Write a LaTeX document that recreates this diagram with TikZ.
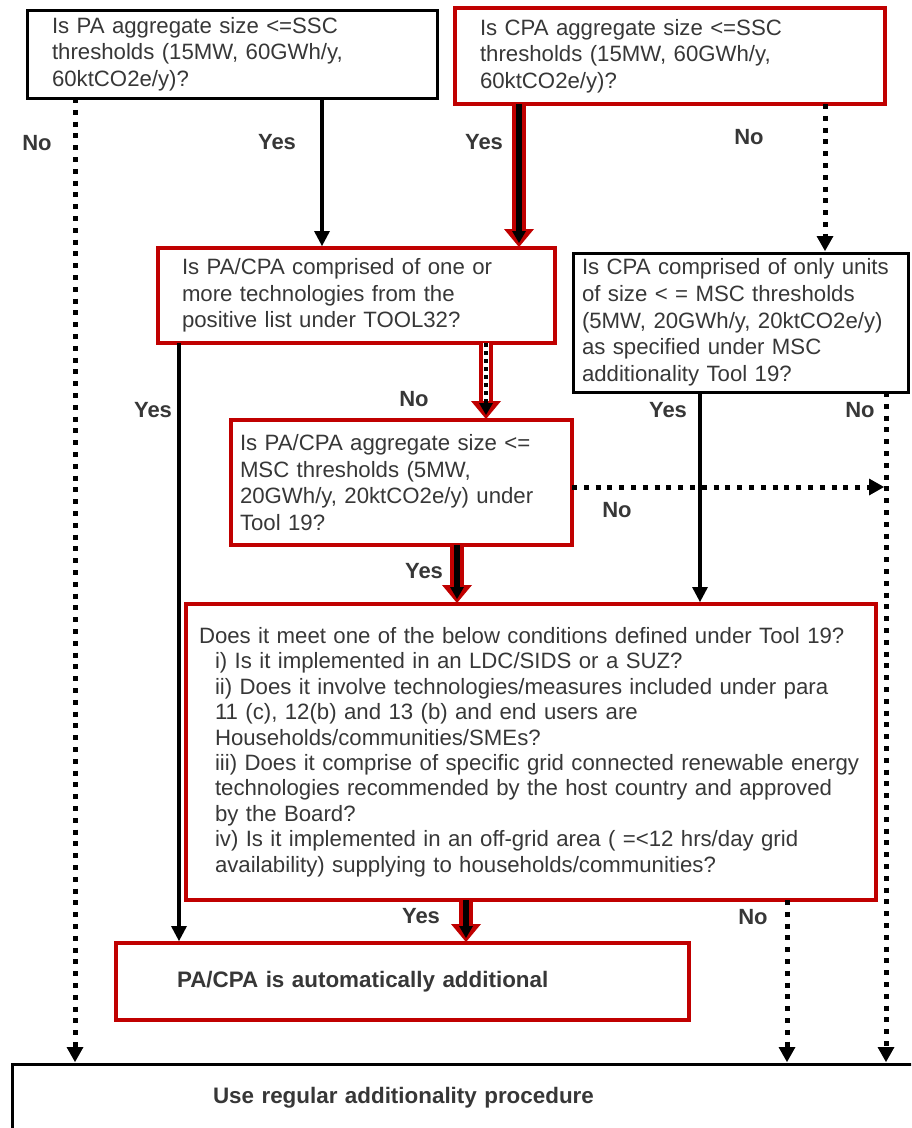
\documentclass[tikz,border=0pt]{standalone}
\usepackage{fontspec}
\setmainfont{Liberation Sans}
\usetikzlibrary{arrows.meta}
\definecolor{boxred}{RGB}{192,0,0}
\definecolor{ink}{RGB}{55,55,55}

\begin{document}
\begin{tikzpicture}[x=1pt,y=-1pt,
  every node/.style={text=ink, font=\fontsize{22.2}{26.7}\selectfont},
  qbox/.style={draw, anchor=north west, align=left, inner ysep=0pt, outer sep=0pt},
  blackbox/.style={qbox, draw=black, line width=3pt},
  redbox/.style={qbox, draw=boxred, line width=4.5pt},
  lbl/.style={inner sep=0pt, font=\bfseries\fontsize{22}{26}\selectfont},
  solidarrow/.style={draw=black, line width=4pt, shorten >=2pt,
    -{Triangle[width=16pt,length=15pt,line width=0pt]}},
  dotarrow/.style={draw=black, line width=5pt, dash pattern=on 5pt off 6.8pt, shorten >=2pt,
    -{Triangle[width=17pt,length=15pt,line width=0pt]}},
  redouter/.style={draw=boxred, line width=14pt, shorten >=1pt,
    -{Triangle[width=30pt,length=18pt,line width=0pt]}},
  whiteinner/.style={draw=white, line width=6pt, shorten >=19pt},
  blackinner/.style={draw=black, line width=6.5pt, shorten >=5pt,
    -{Triangle[width=14pt,length=12pt,line width=0pt]}},
  blackdotinner/.style={draw=black, line width=4pt, dash pattern=on 4pt off 4pt, shorten >=5pt,
    -{Triangle[width=14pt,length=12pt,line width=0pt]}}
]
\useasboundingbox (0,0) rectangle (911,1128);
\clip (0,0) rectangle (911,1128);

% decision boxes
\node[blackbox, minimum width=410pt, minimum height=88pt, inner xsep=25pt, text width=360pt] (A) at (27,10)
  {Is PA aggregate size <=SSC\\ thresholds (15MW, 60GWh/y,\\ 60ktCO2e/y)?};
\node[redbox, minimum width=430pt, minimum height=96pt, inner xsep=25pt, text width=380pt] (B) at (455,8)
  {Is CPA aggregate size <=SSC\\ thresholds (15MW, 60GWh/y,\\ 60ktCO2e/y)?};
\node[redbox, minimum width=397pt, minimum height=95pt, inner xsep=24pt, text width=349pt] (C) at (158,248)
  {Is PA/CPA comprised of one or\\ more technologies from the\\ positive list under TOOL32?};
\node[blackbox, minimum width=335pt, minimum height=139pt, inner xsep=9pt, text width=317pt] (D) at (573,253)
  {\mbox{Is CPA comprised of only units}\\ of size < = MSC thresholds\\ \mbox{(5MW, 20GWh/y, 20ktCO2e/y)}\\ as specified under MSC\\ additionality Tool 19?};
\node[redbox, minimum width=341pt, minimum height=125pt, inner xsep=9pt, text width=323pt] (E) at (231,420)
  {Is PA/CPA aggregate size <=\\ MSC thresholds (5MW,\\ 20GWh/y, 20ktCO2e/y) under\\ Tool 19?};
\node[redbox, minimum width=690pt, minimum height=296pt, inner xsep=13pt, text width=664pt,
  font=\fontsize{22.2}{25.4}\selectfont] (F) at (186,604)
  {\mbox{Does it meet one of the below conditions defined under Tool 19?}\\
   \mbox{\hspace*{16pt}i) Is it implemented in an LDC/SIDS or a SUZ?}\\
   \mbox{\hspace*{16pt}ii) Does it involve technologies/measures included under para}\\
   \mbox{\hspace*{16pt}11 (c), 12(b) and 13 (b) and end users are}\\
   \mbox{\hspace*{16pt}Households/communities/SMEs?}\\
   \mbox{\hspace*{16pt}iii) Does it comprise of specific grid connected renewable energy}\\
   \mbox{\hspace*{16pt}technologies recommended by the host country and approved}\\
   \mbox{\hspace*{16pt}by the Board?}\\
   \mbox{\hspace*{16pt}iv) Is it implemented in an off-grid area ( =<12 hrs/day grid}\\
   \mbox{\hspace*{16pt}availability) supplying to households/communities?}};
\node[redbox, minimum width=573pt, minimum height=77pt, inner xsep=61pt, text width=451pt,
  font=\bfseries\fontsize{22.4}{26.7}\selectfont] (G) at (116,943)
  {PA/CPA is automatically additional};
\node[blackbox, minimum width=928pt, minimum height=68pt, inner xsep=201pt, text width=526pt,
  font=\bfseries\fontsize{22.4}{26.7}\selectfont] (H) at (12,1064)
  {Use regular additionality procedure};

% plain connectors
\draw[solidarrow] (A.south -| 322,0) -- (C.north -| 322,0);
\draw[dotarrow] (A.south -| 75,0) -- (H.north -| 75,0);
\draw[dotarrow] (B.south -| 825,0) -- (D.north -| 825,0);
\draw[solidarrow] (C.south -| 179,0) -- (G.north -| 179,0);
\draw[solidarrow] (D.south -| 700,0) -- (F.north -| 700,0);
\draw[dotarrow] (D.south -| 886,0) -- (H.north -| 886,0);
\coordinate (join) at (886,487);
\draw[dotarrow] (E.east |- join) -- (join);
\draw[dotarrow] (F.south -| 787,0) -- (H.north -| 787,0);

% highlighted connectors (red outline)
\draw[redouter]   (B.south -| 519,0) -- (C.north -| 519,0);
\draw[blackinner] (B.south -| 519,0) -- (C.north -| 519,0);

\draw[redouter]      (C.south -| 486,0) -- (E.north -| 486,0);
\draw[whiteinner]    (C.south -| 486,0) -- (E.north -| 486,0);
\draw[blackdotinner] (C.south -| 486,0) -- (E.north -| 486,0);

\draw[redouter]   (E.south -| 457,0) -- (F.north -| 457,0);
\draw[blackinner] (E.south -| 457,0) -- (F.north -| 457,0);

\draw[redouter]   (F.south -| 466,0) -- (G.north -| 466,0);
\draw[blackinner] (F.south -| 466,0) -- (G.north -| 466,0);

% branch labels
\node[lbl] (noA)  at (37,143)  {No};
\node[lbl] (yesA) at (277,142) {Yes};
\node[lbl] (yesB) at (484,142) {Yes};
\node[lbl] (noB)  at (749,137) {No};
\node[lbl] (yesC) at (153,410) {Yes};
\node[lbl] (noC)  at (414,399) {No};
\node[lbl] (yesD) at (668,410) {Yes};
\node[lbl] (noD)  at (860,410) {No};
\node[lbl] (noE)  at (617,510) {No};
\node[lbl] (yesE) at (424,571) {Yes};
\node[lbl] (yesF) at (421,916) {Yes};
\node[lbl] (noF)  at (753,917) {No};
\end{tikzpicture}
\end{document}
